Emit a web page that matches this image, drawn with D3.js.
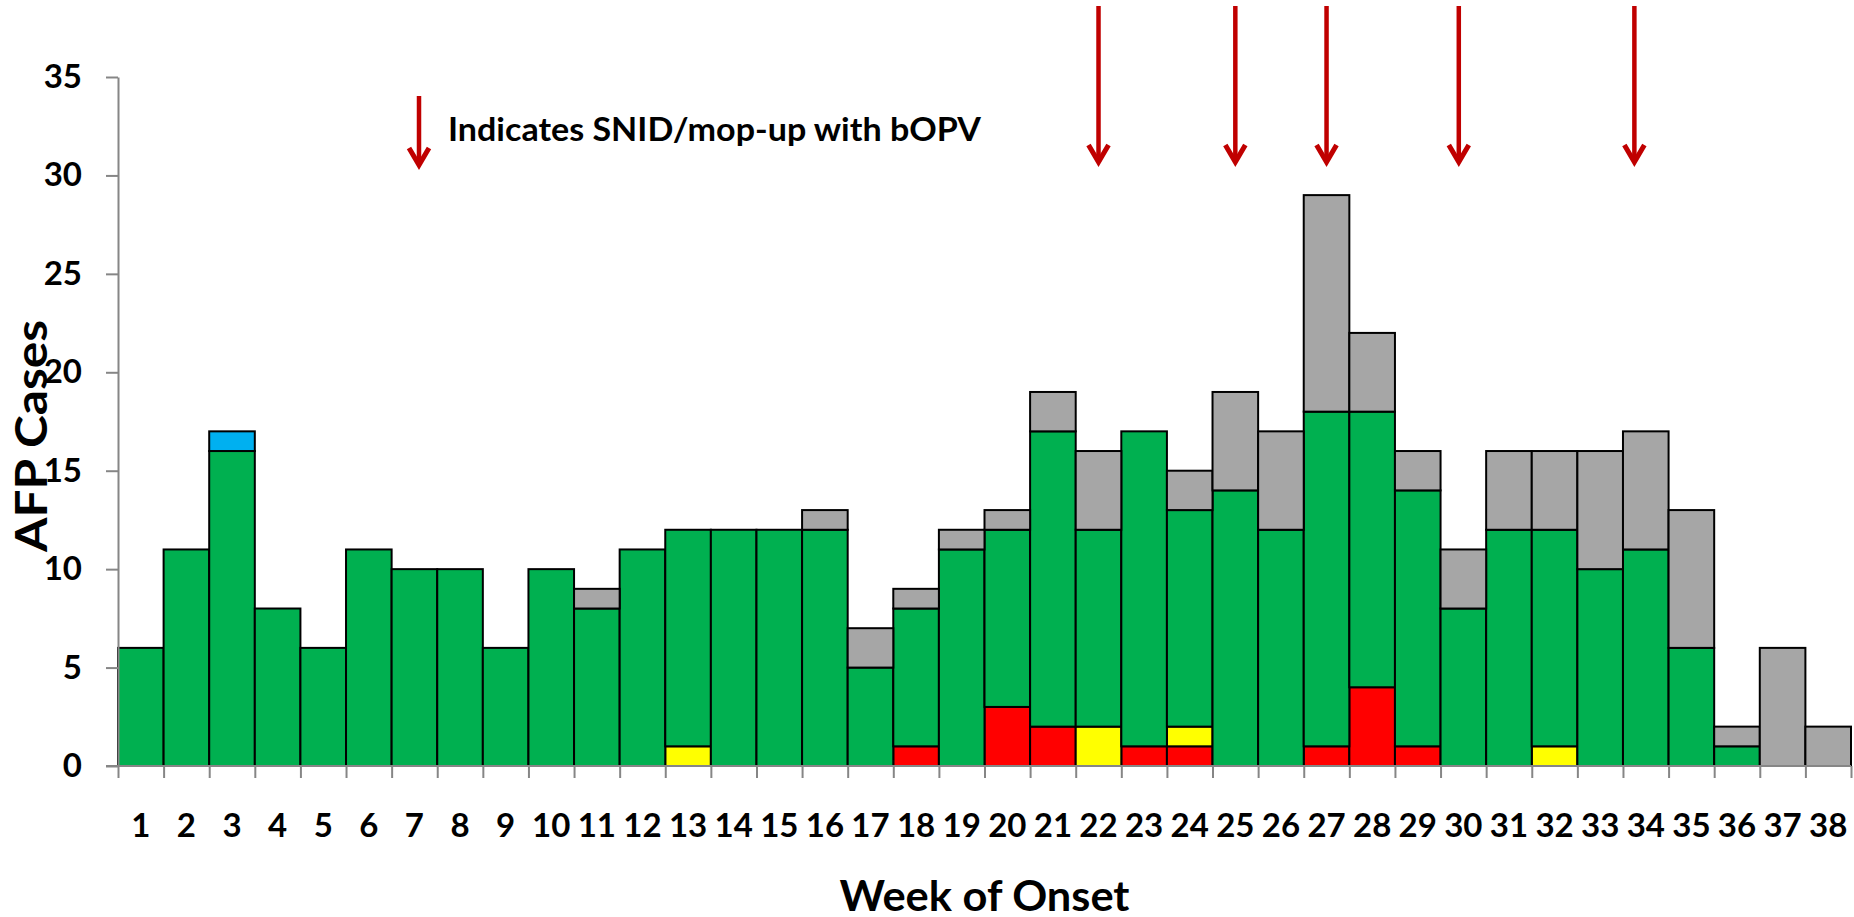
<!DOCTYPE html>
<html>
<head>
<meta charset="utf-8">
<script src="https://cdn.jsdelivr.net/npm/d3@7"></script>
<style>
  body { margin: 0; background: #fff; }
  text { font-family: Lato, "Open Sans", sans-serif; font-weight: bold; fill: #000; }
</style>
</head>
<body>
<script>
// week of onset labels
var weeks = ["1","2","3","4","5","6","7","8","9","10","11","12","13","14","15","16","17","18","19",
             "20","21","22","23","24","25","26","27","28","29","30","31","32","33","34","35","36","37","38"];

// cases per week, bottom to top of each stack
var red    = [0,0,0,0,0,0,0,0,0,0, 0,0,0,0,0,0,0,1,0,3, 2,0,1,1,0,0,1,4,1,0, 0,0,0,0,0,0,0,0];
var yellow = [0,0,0,0,0,0,0,0,0,0, 0,0,1,0,0,0,0,0,0,0, 0,2,0,1,0,0,0,0,0,0, 0,1,0,0,0,0,0,0];
var green  = [6,11,16,8,6,11,10,10,6,10, 8,11,11,12,12,12,5,7,11,9, 15,10,16,11,14,12,17,14,13,8, 12,11,10,11,6,1,0,0];
var blue   = [0,0,1,0,0,0,0,0,0,0, 0,0,0,0,0,0,0,0,0,0, 0,0,0,0,0,0,0,0,0,0, 0,0,0,0,0,0,0,0];
var gray   = [0,0,0,0,0,0,0,0,0,0, 1,0,0,0,0,1,2,1,1,1, 2,4,0,2,5,5,11,4,2,3, 4,4,6,6,7,1,6,2];

var yTicks = [0,5,10,15,20,25,30,35];

// SNID / mop-up rounds (week position of the arrows)
var campaigns = [22, 25, 27, 29.9, 33.75];

var colors = {red:"#FF0000", yellow:"#FFFF00", green:"#00B050", blue:"#00B0F0", gray:"#A6A6A6"};
var keys = ["red","yellow","green","blue","gray"];

var W = 1854, H = 917;
var mLeft = 118, mRight = 1851, mTop = 77, mBottom = 766;

var rows = weeks.map(function(w, i) {
	return {week:w, red:red[i], yellow:yellow[i], green:green[i], blue:blue[i], gray:gray[i]};
});

var svg = d3.select("body").append("svg")
	.attr("width", W)
	.attr("height", H);

var x = d3.scaleBand().domain(weeks).range([mLeft, mRight]).padding(0);
var xLin = d3.scaleLinear().domain([0, weeks.length]).range([mLeft, mRight]);
var y = d3.scaleLinear().domain([0, 35]).range([mBottom, mTop]);

var stacked = d3.stack().keys(keys)(rows);

// bars
svg.append("g").selectAll("g")
	.data(stacked)
	.enter()
	.append("g")
	.attr("fill", function(d) { return colors[d.key]; })
	.selectAll("rect")
	.data(function(d) { return d.filter(function(s) { return s[1] - s[0] > 0; }); })
	.enter()
	.append("rect")
	.attr("x", function(d) { return x(d.data.week); })
	.attr("width", x.bandwidth())
	.attr("y", function(d) { return y(d[1]); })
	.attr("height", function(d) { return y(d[0]) - y(d[1]); })
	.attr("stroke", "#000")
	.attr("stroke-width", 2);

// y axis
var yAxis = svg.append("g")
	.attr("transform", "translate(" + mLeft + ",0)")
	.call(d3.axisLeft(y).tickValues(yTicks).tickSize(12).tickSizeOuter(0).tickPadding(24));
yAxis.selectAll("text").style("font-size", "33px");

// x axis: boundary ticks
var xTicks = svg.append("g")
	.attr("transform", "translate(0," + mBottom + ")")
	.call(d3.axisBottom(xLin).tickValues(d3.range(0, weeks.length + 1)).tickFormat("").tickSize(12).tickSizeOuter(0));
xTicks.select(".domain").attr("d", "M" + (mLeft - 12) + ",0H" + mRight);

// x axis: week labels
var xLabels = svg.append("g")
	.attr("transform", "translate(0," + mBottom + ")")
	.call(d3.axisBottom(x).tickSize(0).tickPadding(48));
xLabels.select(".domain").remove();
xLabels.selectAll("text").style("font-size", "33px");

svg.selectAll(".domain, .tick line").attr("stroke", "#868686").attr("stroke-width", 2);

// axis titles
svg.append("text")
	.attr("x", (mLeft + mRight) / 2)
	.attr("y", 911)
	.attr("text-anchor", "middle")
	.style("font-size", "42px")
	.attr("textLength", 290)
	.attr("lengthAdjust", "spacingAndGlyphs")
	.text("Week of Onset");

svg.append("text")
	.attr("transform", "translate(47,436) rotate(-90)")
	.attr("text-anchor", "middle")
	.style("font-size", "43px")
	.attr("textLength", 232)
	.attr("lengthAdjust", "spacingAndGlyphs")
	.text("AFP Cases");

// arrows
function arrow(cx, y0, y1) {
	var g = svg.append("g")
		.attr("stroke", "#C00000")
		.attr("fill", "none")
		.attr("stroke-width", 4.5);
	g.append("line").attr("x1", cx).attr("x2", cx).attr("y1", y0).attr("y2", y1 - 3);
	g.append("path")
		.attr("d", "M" + (cx - 10) + "," + (y1 - 19) + "L" + cx + "," + (y1 - 2) + "L" + (cx + 10) + "," + (y1 - 19))
		.attr("stroke-width", 5);
}

campaigns.forEach(function(c) {
	arrow(xLin(c - 0.5), 6, 164);
});

// legend note
arrow(419, 96, 167);
svg.append("text")
	.attr("x", 448)
	.attr("y", 141)
	.style("font-size", "33px")
	.attr("textLength", 533)
	.attr("lengthAdjust", "spacingAndGlyphs")
	.text("Indicates SNID/mop-up with bOPV");
</script>
</body>
</html>
